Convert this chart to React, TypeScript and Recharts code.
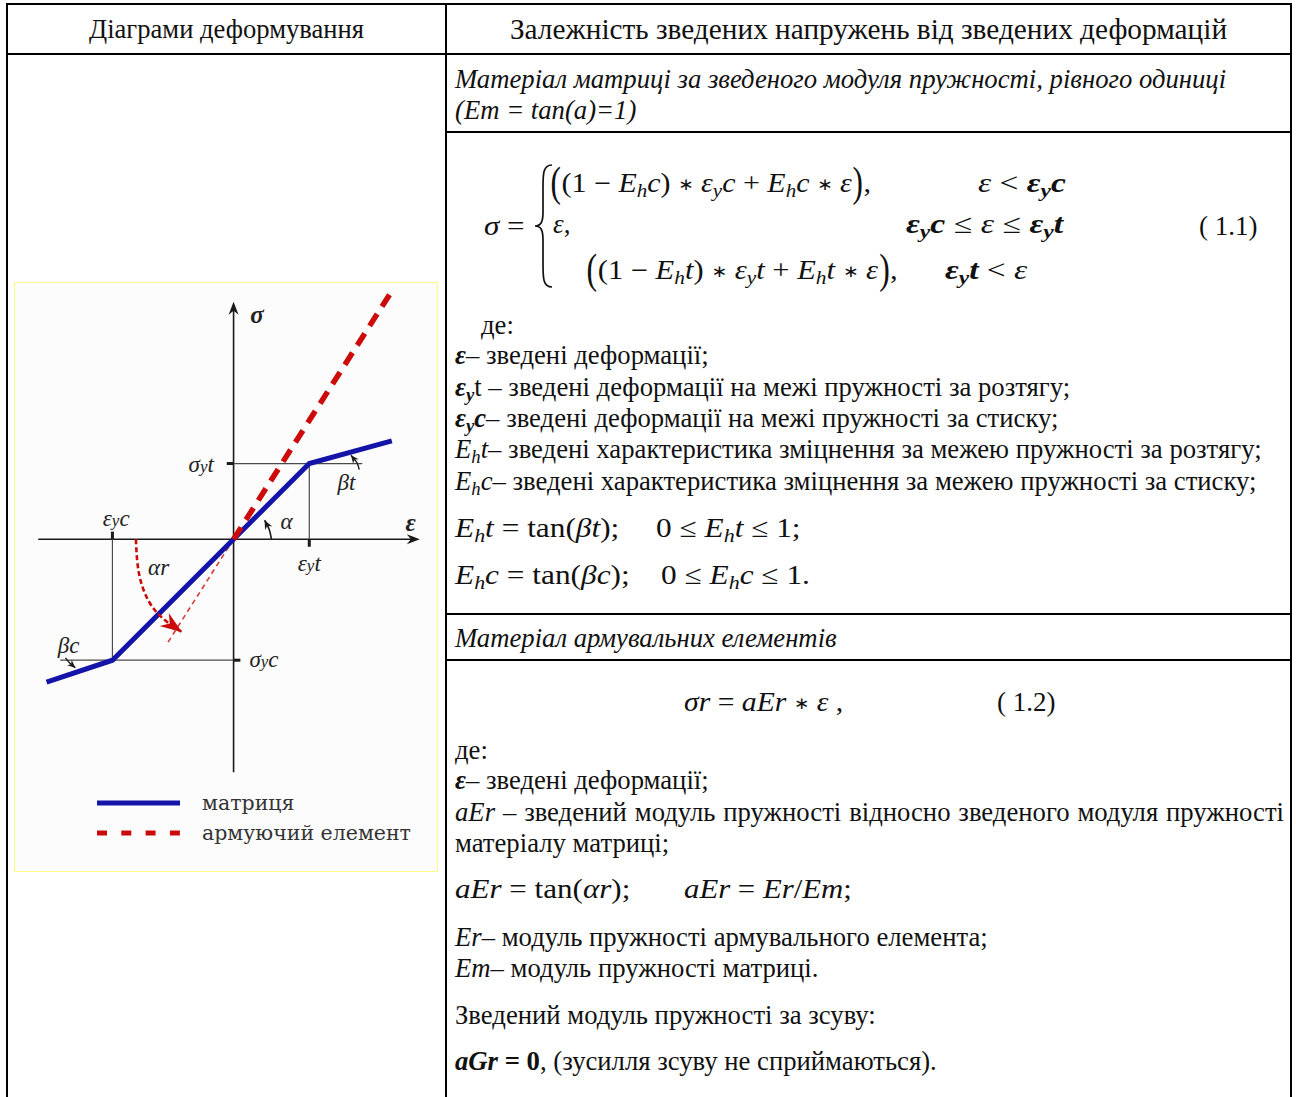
import React from "react";
import {
  LineChart,
  Line,
  XAxis,
  YAxis,
  ReferenceLine,
  ReferenceDot,
} from "recharts";

// ---- діаграма деформування, одиниця = εyt ----
const epsYC = -1.6;
const epsYT = 1;
const sigmaYC = -1.6;
const sigmaYT = 1;

const matrixPoints = [
  { x: -2.47, y: -1.89 },
  { x: epsYC, y: sigmaYC },
  { x: epsYT, y: sigmaYT },
  { x: 2.09, y: 1.3 },
];

const rebarPoints = [
  { x: 0, y: 0 },
  { x: 2.09, y: 3.28 },
];

const rebarTailPoints = [
  { x: 0, y: 0 },
  { x: -0.89, y: -1.4 },
];

const alphaArc = [
  { x: 0.5, y: 0 },
  { x: 0.47, y: 0.13 },
  { x: 0.41, y: 0.25 },
];
const betaTArc = [
  { x: 1.66, y: 0.92 },
  { x: 1.63, y: 1.01 },
  { x: 1.55, y: 1.11 },
];
const betaCArc = [
  { x: -2.22, y: -1.57 },
  { x: -2.17, y: -1.63 },
  { x: -2.09, y: -1.7 },
];
const alphaRArc = [
  { x: -1.29, y: 0 },
  { x: -1.25, y: -0.45 },
  { x: -1.12, y: -0.82 },
  { x: -0.92, y: -1.06 },
  { x: -0.68, y: -1.23 },
];

const xAxisExtent = [-2.58, 2.46];
const yAxisExtent = [-3.08, 3.14];
const sigmaYTGuideEnd = 1.7;
const sigmaYCGuideStart = -2.29;

type ChartLabel = {
  x: number;
  y: number;
  main: string;
  sub?: string;
  tail?: string;
  bold?: boolean;
  anchor?: "start" | "middle" | "end";
};

const chartLabels: ChartLabel[] = [
  { x: 0.31, y: 2.97, main: "σ", bold: true },
  { x: -0.26, y: 0.99, main: "σ", sub: "y", tail: "t", anchor: "end" },
  { x: 1.49, y: 0.75, main: "βt" },
  { x: 0.7, y: 0.24, main: "α" },
  { x: 2.34, y: 0.22, main: "ε", bold: true },
  { x: -1.55, y: 0.28, main: "ε", sub: "y", tail: "c" },
  { x: 1.0, y: -0.32, main: "ε", sub: "y", tail: "t" },
  { x: -0.99, y: -0.37, main: "αr" },
  { x: -2.18, y: -1.41, main: "βc" },
  { x: 0.21, y: -1.59, main: "σ", sub: "y", tail: "c", anchor: "start" },
];

const legendItems = ["матриця", "армуючий елемент"];

const BLUE = "#1414a8";
const RED = "#cc0a0a";
const INK = "#1a1a1a";
const GUIDE = "#4a4a4a";
const LABEL_FONT = "'Liberation Serif', 'DejaVu Serif', serif";

function headingOf(pts: { x: number; y: number }[]): number {
  const a = pts[pts.length - 2];
  const b = pts[pts.length - 1];
  return (Math.atan2(-(b.y - a.y), b.x - a.x) * 180) / Math.PI;
}

function ArrowHead({
  cx,
  cy,
  angle,
  len = 13,
  half = 5,
  notch = 9,
  color = INK,
}: any) {
  if (cx == null || cy == null) return <g />;
  return (
    <path
      d={`M0,0 L${-len},${-half} L${-notch},0 L${-len},${half} Z`}
      transform={`translate(${cx},${cy}) rotate(${angle})`}
      fill={color}
    />
  );
}

const arrowDot =
  (pts: { x: number; y: number }[], opts: any) => (props: any) => {
    if (props.index !== pts.length - 1) return <g key={props.index} />;
    return (
      <ArrowHead
        key={props.index}
        cx={props.cx}
        cy={props.cy}
        angle={headingOf(pts)}
        {...opts}
      />
    );
  };

function LabelShape({ cx, cy, label }: any) {
  const l: ChartLabel = label;
  return (
    <text
      x={cx}
      y={cy}
      textAnchor={l.anchor ?? "middle"}
      dominantBaseline="central"
      fontFamily={LABEL_FONT}
      fontStyle="italic"
      fontWeight={l.bold ? 700 : 400}
      fontSize={l.bold ? 25 : 23}
      fill="#222"
    >
      {l.main}
      {l.sub && (
        <tspan fontSize={17} dy={2}>
          {l.sub}
        </tspan>
      )}
      {l.tail && <tspan dy={-2}>{l.tail}</tspan>}
    </text>
  );
}

function DeformationChart() {
  const seg = (x1: number, y1: number, x2: number, y2: number) => [
    { x: x1, y: y1 },
    { x: x2, y: y2 },
  ];
  return (
    <div
      style={{
        position: "absolute",
        left: 14,
        top: 282,
        width: 424,
        height: 590,
        background: "#fcfcfc",
      }}
    >
      <LineChart
        width={424}
        height={590}
        margin={{ top: 0, right: 0, bottom: 0, left: 0 }}
      >
        <XAxis
          type="number"
          dataKey="x"
          domain={[-2.9, 2.7]}
          allowDataOverflow
          hide
        />
        <YAxis
          type="number"
          dataKey="y"
          domain={[-4.4, 3.4]}
          allowDataOverflow
          hide
        />

        {/* осі */}
        <ReferenceLine
          segment={seg(xAxisExtent[0], 0, xAxisExtent[1] - 0.05, 0)}
          stroke={INK}
          strokeWidth={1.6}
        />
        <ReferenceLine
          segment={seg(0, yAxisExtent[0], 0, yAxisExtent[1] - 0.05)}
          stroke={INK}
          strokeWidth={1.6}
        />
        <ReferenceDot
          x={xAxisExtent[1]}
          y={0}
          r={1}
          shape={(p: any) => <ArrowHead cx={p.cx} cy={p.cy} angle={0} />}
        />
        <ReferenceDot
          x={0}
          y={yAxisExtent[1]}
          r={1}
          shape={(p: any) => <ArrowHead cx={p.cx} cy={p.cy} angle={-90} />}
        />

        {/* допоміжні лінії */}
        <ReferenceLine
          segment={seg(0, sigmaYT, sigmaYTGuideEnd, sigmaYT)}
          stroke={GUIDE}
          strokeWidth={1.2}
        />
        <ReferenceLine
          segment={seg(epsYT, sigmaYT, epsYT, 0)}
          stroke={GUIDE}
          strokeWidth={1.2}
        />
        <ReferenceLine
          segment={seg(epsYC, 0, epsYC, sigmaYC)}
          stroke={GUIDE}
          strokeWidth={1.2}
        />
        <ReferenceLine
          segment={seg(sigmaYCGuideStart, sigmaYC, 0, sigmaYC)}
          stroke={GUIDE}
          strokeWidth={1.2}
        />

        {/* позначки */}
        <ReferenceLine
          segment={seg(epsYC, 0, epsYC, 0.1)}
          stroke={INK}
          strokeWidth={3}
        />
        <ReferenceLine
          segment={seg(epsYT, 0, epsYT, -0.1)}
          stroke={INK}
          strokeWidth={3}
        />
        <ReferenceLine
          segment={seg(-0.09, sigmaYT, 0, sigmaYT)}
          stroke={INK}
          strokeWidth={3}
        />
        <ReferenceLine
          segment={seg(0, sigmaYC, 0.09, sigmaYC)}
          stroke={INK}
          strokeWidth={3}
        />

        <Line
          data={rebarTailPoints}
          dataKey="y"
          stroke={RED}
          strokeWidth={1.6}
          strokeDasharray="5 4"
          strokeOpacity={0.8}
          dot={false}
          activeDot={false}
          isAnimationActive={false}
        />
        <Line
          data={matrixPoints}
          dataKey="y"
          type="linear"
          stroke={BLUE}
          strokeWidth={5}
          dot={false}
          activeDot={false}
          isAnimationActive={false}
        />
        <Line
          data={rebarPoints}
          dataKey="y"
          stroke={RED}
          strokeWidth={5.5}
          strokeDasharray="14 9"
          dot={false}
          activeDot={false}
          isAnimationActive={false}
        />

        {/* кути */}
        <Line
          data={alphaArc}
          dataKey="y"
          type="natural"
          stroke={INK}
          strokeWidth={1.6}
          dot={arrowDot(alphaArc, { len: 9, half: 4, notch: 6 })}
          activeDot={false}
          isAnimationActive={false}
        />
        <Line
          data={betaTArc}
          dataKey="y"
          type="natural"
          stroke={INK}
          strokeWidth={1.4}
          dot={arrowDot(betaTArc, { len: 8, half: 3.5, notch: 5.5 })}
          activeDot={false}
          isAnimationActive={false}
        />
        <Line
          data={betaCArc}
          dataKey="y"
          type="natural"
          stroke={INK}
          strokeWidth={1.4}
          dot={arrowDot(betaCArc, { len: 8, half: 3.5, notch: 5.5 })}
          activeDot={false}
          isAnimationActive={false}
        />
        <Line
          data={alphaRArc}
          dataKey="y"
          type="natural"
          stroke={RED}
          strokeWidth={2.6}
          strokeDasharray="5 3"
          dot={arrowDot(alphaRArc, {
            len: 22,
            half: 8,
            notch: 15,
            color: RED,
          })}
          activeDot={false}
          isAnimationActive={false}
        />

        {chartLabels.map((l, i) => (
          <ReferenceDot
            key={i}
            x={l.x}
            y={l.y}
            r={1}
            shape={(p: any) => <LabelShape cx={p.cx} cy={p.cy} label={l} />}
          />
        ))}
      </LineChart>

      {/* легенда */}
      <svg
        width={424}
        height={80}
        style={{ position: "absolute", left: 0, top: 490 }}
      >
        <line x1={83} y1={31} x2={166} y2={31} stroke={BLUE} strokeWidth={5} />
        <line
          x1={83}
          y1={61}
          x2={166}
          y2={61}
          stroke={RED}
          strokeWidth={5}
          strokeDasharray="10 14.3"
        />
        {legendItems.map((t, i) => (
          <text
            key={t}
            x={188}
            y={31 + i * 30}
            dominantBaseline="central"
            fontFamily="'DejaVu Serif', serif"
            fontSize={20.5}
            fill="#333"
          >
            {t}
          </text>
        ))}
      </svg>

      <div
        style={{
          position: "absolute",
          inset: 0,
          border: "1.5px solid #fbff86",
          pointerEvents: "none",
        }}
      />
    </div>
  );
}

// ---- текстова частина таблиці ----
const SERIF = "'Liberation Serif', 'Times New Roman', serif";
const BODY = 26.7;
const MATH = 27;

function T({ x, y, size = BODY, italic, sx, style, children }: any) {
  return (
    <div
      style={{
        position: "absolute",
        left: x,
        top: y - size * 0.6,
        fontSize: size,
        lineHeight: 1.2,
        whiteSpace: "nowrap",
        fontStyle: italic ? "italic" : "normal",
        transform: sx ? `scaleX(${sx})` : undefined,
        transformOrigin: "left center",
        ...style,
      }}
    >
      {children}
    </div>
  );
}

const I = ({ children }: any) => (
  <span style={{ fontStyle: "italic" }}>{children}</span>
);
const B = ({ children }: any) => (
  <span style={{ fontWeight: 700 }}>{children}</span>
);
const Sub = ({ children }: any) => (
  <span style={{ fontSize: "0.7em", verticalAlign: "-0.28em" }}>
    {children}
  </span>
);
const Ast = () => (
  <span
    style={{
      fontFamily: "'DejaVu Sans', sans-serif",
      fontSize: "0.62em",
      verticalAlign: "0.1em",
    }}
  >
    ∗
  </span>
);
const Big = ({ children }: any) => (
  <span
    style={{
      fontSize: "1.6em",
      fontStyle: "normal",
      fontWeight: 300,
      lineHeight: 0,
      verticalAlign: "-0.1em",
      display: "inline-block",
      transform: "scaleX(0.65)",
      margin: "0 -2px",
    }}
  >
    {children}
  </span>
);
const Eh = ({ s }: { s: string }) => (
  <>
    <I>E</I>
    <Sub>
      <I>h</I>
    </Sub>
    <I>{s}</I>
  </>
);
const Ey = ({ s, bold }: { s: string; bold?: boolean }) => {
  const inner = (
    <>
      <I>ε</I>
      <Sub>
        <I>y</I>
      </Sub>
      <I>{s}</I>
    </>
  );
  return bold ? <B>{inner}</B> : inner;
};

function Rule({ x, y, w, h }: any) {
  return (
    <div
      style={{
        position: "absolute",
        left: x,
        top: y,
        width: w,
        height: h,
        background: "#000",
      }}
    />
  );
}

export default function App() {
  return (
    <div
      style={{
        position: "fixed",
        left: 0,
        top: 0,
        width: 1296,
        height: 1097,
        background: "#fff",
        overflow: "hidden",
        fontFamily: SERIF,
        color: "#111",
      }}
    >
      {/* рамки таблиці */}
      <Rule x={6} y={3} w={1286} h={2} />
      <Rule x={6} y={53} w={1286} h={2} />
      <Rule x={6} y={3} w={2} h={1094} />
      <Rule x={1290} y={3} w={2} h={1094} />
      <Rule x={445} y={3} w={2} h={1094} />
      <Rule x={446} y={131} w={846} h={2} />
      <Rule x={446} y={613} w={846} h={2} />
      <Rule x={446} y={659} w={846} h={2} />

      {/* заголовки */}
      <T x={8} y={30} size={26.6} style={{ width: 437, textAlign: "center" }}>
        Діаграми деформування
      </T>
      <T x={447} y={30} size={29.3} style={{ width: 843, textAlign: "center" }}>
        Залежність зведених напружень від зведених деформацій
      </T>

      <T x={455} y={79} italic>
        Матеріал матриці за зведеного модуля пружності, рівного одиниці
      </T>
      <T x={455} y={110} italic>
        (Em = tan(a)=1)
      </T>

      {/* формула 1.1 */}
      <T x={484} y={226} size={MATH} sx={1.15}>
        <I>σ</I> =
      </T>
      <svg
        width={24}
        height={130}
        style={{ position: "absolute", left: 532, top: 162 }}
      >
        <path
          d="M20,3 C11,3 11,12 11,26 L11,50 C11,60 9,64 3,64 C9,64 11,68 11,78 L11,102 C11,116 11,125 20,125"
          fill="none"
          stroke="#111"
          strokeWidth={1.7}
        />
      </svg>
      <T x={550} y={183} size={MATH} sx={1.11}>
        <Big>(</Big>(1 − <Eh s="c" />) <Ast /> <Ey s="c" /> + <Eh s="c" />{" "}
        <Ast /> <I>ε</I>
        <Big>)</Big>,
      </T>
      <T x={978} y={183} size={MATH} sx={1.24}>
        <I>ε</I> &lt; <Ey s="c" bold />
      </T>
      <T x={553} y={224} size={MATH}>
        <I>ε</I>,
      </T>
      <T x={906} y={224} size={MATH} sx={1.25}>
        <Ey s="c" bold /> ≤ <I>ε</I> ≤ <Ey s="t" bold />
      </T>
      <T x={586} y={270} size={MATH} sx={1.13}>
        <Big>(</Big>(1 − <Eh s="t" />) <Ast /> <Ey s="t" /> + <Eh s="t" />{" "}
        <Ast /> <I>ε</I>
        <Big>)</Big>,
      </T>
      <T x={945} y={270} size={MATH} sx={1.24}>
        <Ey s="t" bold /> &lt; <I>ε</I>
      </T>
      <T x={1199} y={226} size={27}>
        ( 1.1)
      </T>

      <T x={481} y={325}>
        де:
      </T>
      <T x={455} y={355}>
        <B>
          <I>ε</I>
        </B>
        – зведені деформації;
      </T>
      <T x={455} y={387}>
        <B>
          <I>
            ε<Sub>y</Sub>
          </I>
        </B>
        t – зведені деформації на межі пружності за розтягу;
      </T>
      <T x={455} y={418}>
        <B>
          <I>
            ε<Sub>y</Sub>c
          </I>
        </B>
        – зведені деформації на межі пружності за стиску;
      </T>
      <T x={455} y={449}>
        <I>E</I>
        <Sub>
          <I>h</I>
        </Sub>
        <I>t</I>– зведені характеристика зміцнення за межею пружності за
        розтягу;
      </T>
      <T x={455} y={481}>
        <I>E</I>
        <Sub>
          <I>h</I>
        </Sub>
        <I>c</I>– зведені характеристика зміцнення за межею пружності за
        стиску;
      </T>
      <T x={455} y={528} size={MATH} sx={1.16}>
        <Eh s="t" /> = tan(<I>βt</I>);
      </T>
      <T x={656} y={528} size={MATH} sx={1.16}>
        0 ≤ <Eh s="t" /> ≤ 1;
      </T>
      <T x={455} y={575} size={MATH} sx={1.16}>
        <Eh s="c" /> = tan(<I>βc</I>);
      </T>
      <T x={661} y={575} size={MATH} sx={1.16}>
        0 ≤ <Eh s="c" /> ≤ 1.
      </T>

      <T x={455} y={638} italic>
        Матеріал армувальних елементів
      </T>

      {/* формула 1.2 */}
      <T x={684} y={702} size={MATH} sx={1.1}>
        <I>σr</I> = <I>aEr</I> <Ast /> <I>ε</I> ,
      </T>
      <T x={997} y={702} size={27}>
        ( 1.2)
      </T>
      <T x={455} y={750}>
        де:
      </T>
      <T x={455} y={780}>
        <B>
          <I>ε</I>
        </B>
        – зведені деформації;
      </T>
      <T
        x={455}
        y={812}
        style={{ width: 829, textAlign: "justify", textAlignLast: "justify" }}
      >
        <I>aEr</I> – зведений модуль пружності відносно зведеного модуля
        пружності
      </T>
      <T x={455} y={843}>
        матеріалу матриці;
      </T>
      <T x={455} y={889} size={MATH} sx={1.15}>
        <I>aEr</I> = tan(<I>αr</I>);
      </T>
      <T x={684} y={889} size={MATH} sx={1.14}>
        <I>aEr</I> = <I>Er</I>/<I>Em</I>;
      </T>
      <T x={455} y={937}>
        <I>Er</I>– модуль пружності армувального елемента;
      </T>
      <T x={455} y={968}>
        <I>Em</I>– модуль пружності матриці.
      </T>
      <T x={455} y={1015}>
        Зведений модуль пружності за зсуву:
      </T>
      <T x={455} y={1061}>
        <B>
          <I>aGr</I> = 0
        </B>
        , (зусилля зсуву не сприймаються).
      </T>

      <DeformationChart />
    </div>
  );
}
